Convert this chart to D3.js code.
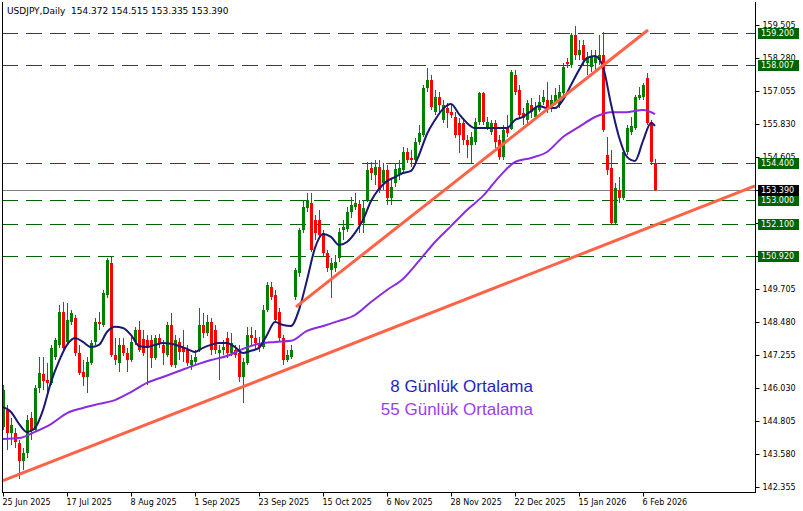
<!DOCTYPE html>
<html>
<head>
<meta charset="utf-8">
<script src="https://cdn.jsdelivr.net/npm/d3@7"></script>
<style>
  html, body { margin: 0; padding: 0; background: #ffffff; }
  svg { display: block; }
</style>
</head>
<body>
<svg id="chart" width="803" height="511"></svg>
<script>
// ---- Data -------------------------------------------------------------
const symbolTitle = "USDJPY,Daily  154.372 154.515 153.335 153.390";

// Date labels on the time axis and the bar each one sits on
const dateLabels = ["25 Jun 2025", "17 Jul 2025", "8 Aug 2025", "1 Sep 2025", "23 Sep 2025",
  "15 Oct 2025", "6 Nov 2025", "28 Nov 2025", "22 Dec 2025", "15 Jan 2026", "6 Feb 2026"];
const dateLabelBars = [0, 16, 32, 48, 64, 80, 96, 112, 128, 144, 160];

// Price scale labels
const priceTicks = [142.355, 143.580, 144.805, 146.030, 147.255, 148.480, 149.705, 150.930,
  152.155, 153.380, 154.605, 155.830, 157.055, 158.280, 159.505];

// Daily OHLC
const opens = [
  144.58, 145.21, 144.36, 144.36, 143.99, 143.32, 143.62, 144.92, 144.47, 146.03,
  146.55, 146.33, 146.22, 147.18, 147.63, 148.85, 147.74, 148.48, 148.63, 147.33,
  146.63, 146.44, 146.96, 147.74, 148.48, 148.37, 149.48, 150.67, 147.26, 146.96,
  147.63, 147.33, 147.07, 147.74, 148.18, 147.85, 147.81, 147.81, 147.15, 147.89,
  147.63, 147.26, 148.37, 146.88, 147.74, 147.55, 147.44, 146.88, 147.00, 147.44,
  148.37, 148.07, 148.48, 148.18, 147.33, 147.44, 147.89, 147.33, 147.44, 147.33,
  146.44, 146.96, 148.00, 147.89, 147.70, 147.55, 148.93, 149.78, 149.48, 148.85,
  147.89, 147.07, 147.18, 149.41, 150.30, 151.90, 152.71, 152.90, 152.27, 152.27,
  151.79, 151.05, 150.41, 150.49, 150.86, 151.90, 151.94, 152.56, 152.75, 152.86,
  152.16, 153.01, 154.20, 153.94, 154.23, 153.64, 154.12, 153.08, 153.64, 153.97,
  154.12, 154.79, 154.57, 154.49, 155.16, 155.42, 157.17, 157.46, 156.27, 156.83,
  155.98, 156.42, 156.27, 156.09, 155.87, 155.87, 155.24, 155.05, 155.16, 155.90,
  156.98, 155.72, 155.53, 155.87, 155.24, 154.61, 155.68, 155.65, 157.65, 157.09,
  156.24, 155.98, 156.53, 156.09, 156.35, 156.65, 156.72, 156.42, 156.65, 156.53,
  156.98, 158.13, 158.02, 159.13, 158.39, 158.76, 158.09, 157.95, 158.09, 158.21,
  158.39, 154.68, 154.20, 152.16, 153.38, 153.08, 154.79, 155.53, 155.68, 156.79,
  156.83, 157.54, 155.90, 154.372];
const highs = [
  146.15, 145.40, 144.92, 144.55, 144.10, 143.80, 145.03, 145.14, 146.15, 147.18,
  147.18, 146.96, 147.63, 147.89, 149.11, 149.22, 149.19, 148.93, 148.74, 147.63,
  147.07, 147.18, 147.81, 148.63, 148.85, 149.67, 150.86, 150.89, 147.89, 147.89,
  147.89, 147.52, 147.93, 148.30, 148.52, 148.18, 148.00, 148.00, 148.00, 148.04,
  147.81, 148.48, 148.82, 148.00, 147.89, 148.18, 147.63, 147.26, 147.44, 149.00,
  148.82, 148.74, 148.63, 148.37, 147.63, 147.81, 148.11, 148.07, 147.63, 147.63,
  147.15, 148.30, 148.30, 148.18, 147.93, 149.11, 149.96, 149.96, 149.67, 149.00,
  148.00, 147.44, 147.63, 150.49, 151.97, 153.01, 153.27, 153.27, 152.45, 152.64,
  151.90, 151.15, 150.86, 150.97, 151.97, 152.27, 152.75, 153.12, 153.27, 153.01,
  153.01, 154.42, 154.42, 154.49, 154.49, 154.38, 154.31, 153.83, 154.38, 154.49,
  154.98, 154.94, 154.87, 155.31, 155.79, 157.28, 157.91, 157.65, 157.09, 157.02,
  156.72, 156.61, 156.53, 156.27, 156.05, 156.05, 155.42, 155.53, 156.05, 157.02,
  157.02, 156.09, 155.98, 155.98, 155.42, 155.79, 156.16, 157.83, 157.83, 157.28,
  156.42, 156.72, 156.79, 156.65, 156.91, 157.09, 157.39, 156.91, 157.17, 157.28,
  158.09, 158.28, 159.21, 159.47, 158.95, 158.95, 158.50, 158.58, 158.58, 159.13,
  159.24, 155.35, 154.87, 153.64, 153.86, 154.87, 155.79, 156.09, 156.91, 157.20,
  157.35, 157.72, 155.98, 154.515];
const lows = [
  144.47, 143.72, 143.91, 143.80, 142.67, 142.99, 143.44, 144.10, 144.40, 145.84,
  145.96, 145.77, 146.15, 147.07, 147.52, 147.44, 147.63, 148.37, 147.22, 146.51,
  146.11, 145.85, 146.88, 147.63, 148.18, 148.30, 149.37, 147.18, 146.88, 146.63,
  147.22, 146.63, 147.00, 147.63, 147.37, 147.22, 146.15, 146.77, 147.07, 147.52,
  146.88, 147.18, 146.81, 146.77, 147.07, 147.00, 146.85, 146.70, 146.88, 147.37,
  147.89, 147.96, 147.26, 147.30, 146.33, 147.26, 147.15, 147.22, 147.15, 146.25,
  145.47, 146.88, 147.63, 147.44, 147.37, 147.48, 148.85, 149.30, 148.48, 147.78,
  146.88, 147.00, 147.11, 149.30, 150.16, 151.79, 152.56, 151.08, 151.53, 151.60,
  150.93, 150.34, 149.37, 150.34, 150.71, 151.53, 151.82, 152.34, 152.64, 151.79,
  151.79, 152.94, 153.75, 153.57, 153.27, 153.38, 152.82, 152.82, 153.49, 153.75,
  154.05, 154.38, 154.23, 154.38, 155.05, 155.35, 157.02, 156.35, 156.16, 156.27,
  155.87, 155.68, 156.05, 155.31, 154.75, 155.05, 154.57, 154.38, 155.05, 155.79,
  155.79, 155.61, 155.42, 154.94, 154.49, 154.49, 155.35, 155.61, 156.91, 156.05,
  155.79, 155.79, 156.05, 155.98, 156.27, 156.53, 156.24, 156.27, 156.53, 156.42,
  156.91, 157.91, 157.91, 158.21, 158.21, 158.02, 157.65, 157.76, 157.83, 158.02,
  155.53, 153.94, 152.08, 152.08, 152.90, 153.01, 154.68, 155.42, 155.61, 156.72,
  156.72, 155.79, 154.31, 153.335];
const closes = [
  145.96, 144.36, 144.66, 144.03, 143.32, 143.62, 144.84, 144.47, 146.03, 146.59,
  146.29, 146.22, 147.52, 147.81, 148.85, 147.52, 148.56, 148.82, 147.33, 146.59,
  146.44, 147.00, 147.70, 148.48, 148.41, 149.56, 150.78, 147.26, 147.07, 147.63,
  147.33, 147.07, 147.74, 148.18, 147.44, 147.33, 147.55, 147.15, 147.89, 147.70,
  147.33, 148.37, 146.88, 147.81, 147.37, 147.37, 146.96, 147.07, 147.18, 148.37,
  148.07, 148.48, 147.44, 147.44, 147.44, 147.55, 147.33, 147.70, 147.26, 146.44,
  147.00, 148.00, 147.89, 147.70, 147.55, 148.93, 149.85, 149.41, 148.56, 147.89,
  147.07, 147.26, 147.44, 150.41, 151.90, 152.75, 153.01, 151.15, 151.79, 151.71,
  151.05, 150.49, 150.67, 150.71, 151.82, 152.01, 152.56, 152.82, 152.90, 152.08,
  152.71, 154.12, 154.01, 154.23, 153.38, 154.12, 153.08, 153.49, 154.16, 154.20,
  154.79, 154.49, 154.49, 155.16, 155.50, 157.17, 157.46, 156.46, 156.83, 156.53,
  156.53, 156.24, 156.16, 155.42, 155.42, 155.24, 155.05, 155.35, 155.90, 156.98,
  155.90, 155.90, 155.87, 155.16, 154.61, 155.61, 155.50, 157.76, 157.02, 156.16,
  156.05, 156.61, 156.27, 156.42, 156.65, 156.83, 156.35, 156.72, 156.91, 157.02,
  157.95, 158.06, 159.13, 158.39, 158.58, 158.21, 158.28, 158.32, 158.32, 158.39,
  155.61, 154.12, 152.16, 153.45, 153.08, 154.79, 155.68, 155.76, 156.83, 156.91,
  157.28, 155.87, 154.42, 153.390];

// 8-day moving average, every second bar (last value on the final bar)
const ma8 = [
  145.33, 145.14, 144.70, 144.40, 144.55, 145.21, 146.25, 147.03, 147.63, 147.89,
  147.74, 147.55, 147.63, 148.11, 148.30, 148.26, 148.00, 147.59, 147.55, 147.63,
  147.70, 147.67, 147.59, 147.48, 147.37, 147.52, 147.63, 147.70, 147.70, 147.55,
  147.33, 147.41, 147.52, 148.00, 148.48, 148.37, 148.33, 148.93, 150.04, 151.23,
  151.75, 151.64, 151.34, 151.45, 151.79, 152.27, 152.97, 153.42, 153.71, 153.86,
  154.01, 154.09, 154.68, 155.46, 155.98, 156.39, 156.57, 156.20, 155.87, 155.68,
  155.68, 155.68, 155.68, 155.68, 155.98, 156.09, 156.31, 156.50, 156.42, 156.42,
  156.72, 157.28, 157.83, 158.28, 158.35, 157.95, 156.57, 155.35, 154.61, 154.46,
  155.20, 155.87, 155.76];
// 55-day moving average, every fourth bar (last value on the final bar)
const ma55 = [
  144.14, 144.17, 144.40, 144.69, 145.10, 145.29, 145.44, 145.58, 145.88, 146.22,
  146.44, 146.66, 146.88, 147.07, 147.22, 147.48, 147.67, 147.74, 147.78, 148.15,
  148.33, 148.52, 148.74, 149.22, 149.67, 150.08, 150.75, 151.45, 152.04, 152.64,
  153.16, 153.86, 154.42, 154.57, 154.79, 155.35, 155.72, 156.09, 156.27, 156.27,
  156.35, 156.20];

// Horizontal support / resistance levels and the last price
const levels = [159.200, 158.007, 154.400, 153.000, 152.100, 150.920];
const lastPrice = 153.390;

// Trend lines as [bar, price] end points
const trendLines = [
  [[0, 142.59], [188, 153.53]],
  [[73.25, 149.04], [161.25, 159.32]]
];

const legendLabels = ["8 Günlük Ortalama", "55 Günlük Ortalama"];

// ---- Layout -----------------------------------------------------------
const W = 803, H = 511;
const plot = { left: 2, right: 755, top: 2, bottom: 492 };
const axisFont = "'DejaVu Sans', Tahoma, sans-serif";

const svg = d3.select("#chart");
const n = closes.length;

const x = d3.scaleLinear().domain([0, 188]).range([3, 755]);
const y = d3.scaleLinear().domain([142.355, 159.505]).range([487, 25]);

svg.append("defs").append("clipPath").attr("id", "plotClip")
  .append("rect")
  .attr("x", plot.left).attr("y", plot.top)
  .attr("width", plot.right - plot.left).attr("height", plot.bottom - plot.top);

const body = svg.append("g").attr("clip-path", "url(#plotClip)");

// Dashed levels
body.append("g").selectAll("line").data(levels).join("line")
  .attr("x1", plot.left).attr("x2", plot.right)
  .attr("y1", d => Math.round(y(d)) + 0.5).attr("y2", d => Math.round(y(d)) + 0.5)
  .attr("stroke", "#006400").attr("stroke-width", 1)
  .attr("stroke-dasharray", "16,8")
  .attr("shape-rendering", "crispEdges");

// Last price line
body.append("line")
  .attr("x1", plot.left).attr("x2", plot.right)
  .attr("y1", Math.round(y(lastPrice)) + 0.5).attr("y2", Math.round(y(lastPrice)) + 0.5)
  .attr("stroke", "#808080").attr("stroke-width", 1)
  .attr("shape-rendering", "crispEdges");

// Candles
const bars = d3.range(n).map(i => ({ i, o: opens[i], h: highs[i], l: lows[i], c: closes[i] }));
const candle = body.append("g").selectAll("g").data(bars).join("g")
  .attr("shape-rendering", "crispEdges");
const colorOf = d => d.c >= d.o ? "#008000" : "#ff0000";
candle.append("line")
  .attr("x1", d => Math.round(x(d.i)) + 0.5).attr("x2", d => Math.round(x(d.i)) + 0.5)
  .attr("y1", d => y(d.h)).attr("y2", d => y(d.l))
  .attr("stroke", colorOf).attr("stroke-width", 1);
candle.append("rect")
  .attr("x", d => Math.round(x(d.i)) - 1)
  .attr("width", 3)
  .attr("y", d => y(Math.max(d.o, d.c)))
  .attr("height", d => Math.max(1, Math.abs(y(d.o) - y(d.c))))
  .attr("fill", colorOf);

// Moving averages
const ma8Bars = d3.range(0, n - 1, 2).concat([n - 1]);
const ma55Bars = d3.range(0, n - 1, 4).concat([n - 1]);
const maLine = d3.line().curve(d3.curveMonotoneX).x(d => x(d[0])).y(d => y(d[1]));
body.append("path")
  .attr("d", maLine(ma55.map((v, k) => [ma55Bars[k], v])))
  .attr("fill", "none").attr("stroke", "#8a2be2").attr("stroke-width", 2);
body.append("path")
  .attr("d", maLine(ma8.map((v, k) => [ma8Bars[k], v])))
  .attr("fill", "none").attr("stroke", "#191970").attr("stroke-width", 2);

// Trend lines
body.append("g").selectAll("line").data(trendLines).join("line")
  .attr("x1", d => x(d[0][0])).attr("y1", d => y(d[0][1]))
  .attr("x2", d => x(d[1][0])).attr("y2", d => y(d[1][1]))
  .attr("stroke", "#ff6347").attr("stroke-width", 3);

// Frame
svg.append("path")
  .attr("d", `M${plot.left + 0.5},${plot.top}V${plot.bottom + 0.5}H${plot.right + 0.5}V${plot.top}`)
  .attr("fill", "none").attr("stroke", "#000").attr("stroke-width", 1)
  .attr("shape-rendering", "crispEdges");

// Price axis
const yAxis = svg.append("g")
  .attr("transform", `translate(${plot.right + 0.5},0)`)
  .call(d3.axisRight(y).tickValues(priceTicks).tickSize(4).tickPadding(3)
    .tickFormat(d3.format(".3f")));
yAxis.select(".domain").remove();
yAxis.selectAll("text").attr("font-family", axisFont).attr("font-size", 8).attr("fill", "#000");
yAxis.selectAll("line").attr("stroke", "#000");

// Time axis
const xAxis = svg.append("g")
  .attr("transform", `translate(0,${plot.bottom + 0.5})`)
  .call(d3.axisBottom(x).tickValues(dateLabelBars).tickSize(4).tickPadding(3)
    .tickFormat((d, k) => dateLabels[k]));
xAxis.select(".domain").remove();
xAxis.selectAll("text").attr("font-family", axisFont).attr("font-size", 8)
  .attr("fill", "#000").attr("text-anchor", "start").attr("dx", -1);
xAxis.selectAll("line").attr("stroke", "#000");

// Level tags on the price axis
const tags = svg.append("g").selectAll("g")
  .data(levels.map(v => ({ v, fill: "#006400" })).concat([{ v: lastPrice, fill: "#000000" }]))
  .join("g")
  .attr("transform", d => `translate(758,${Math.round(y(d.v))})`);
tags.append("rect")
  .attr("x", 0).attr("y", -5).attr("width", 41).attr("height", 11)
  .attr("fill", d => d.fill).attr("shape-rendering", "crispEdges");
tags.append("text")
  .attr("x", 3).attr("y", 0).attr("dy", "0.35em")
  .attr("font-family", axisFont).attr("font-size", 8).attr("fill", "#fff")
  .text(d => d3.format(".3f")(d.v));

// Title
svg.append("text")
  .attr("x", 7).attr("y", 14)
  .attr("font-family", axisFont).attr("font-size", 9).attr("fill", "#000")
  .attr("xml:space", "preserve").style("white-space", "pre")
  .text(symbolTitle);

// Legend
const legendColors = ["#1f1fbf", "#9b3ee8"];
svg.append("g").selectAll("text").data(legendLabels).join("text")
  .attr("x", 533).attr("y", (d, k) => 392 + k * 23)
  .attr("text-anchor", "end")
  .attr("font-family", "'Liberation Sans', Arial, sans-serif").attr("font-size", 17)
  .attr("fill", (d, k) => legendColors[k])
  .text(d => d);
</script>
</body>
</html>
